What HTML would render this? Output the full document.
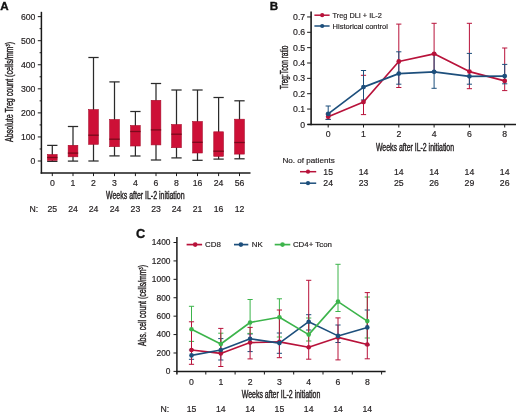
<!DOCTYPE html>
<html><head><meta charset="utf-8"><style>
html,body{margin:0;padding:0;background:#fff;}
svg{display:block;font-family:"Liberation Sans", sans-serif;will-change:transform;filter:blur(0.3px);}
</style></head><body>
<svg width="520" height="413" viewBox="0 0 520 413">
<rect width="520" height="413" fill="#fff"/>
<text x="0.3" y="10.0" font-size="11.6" text-anchor="start" fill="#111" font-weight="bold" stroke="#111" stroke-width="0.35">A</text>
<line x1="41.4" y1="11.8" x2="41.4" y2="173.65" stroke="#1a1a1a" stroke-width="1.5" />
<line x1="40.65" y1="172.9" x2="250.5" y2="172.9" stroke="#1a1a1a" stroke-width="1.5" />
<line x1="37.8" y1="161.0" x2="41.4" y2="161.0" stroke="#1a1a1a" stroke-width="1.0" />
<text x="35.4" y="164.1" font-size="8.7" text-anchor="end" fill="#231f20" font-weight="normal"  stroke="#231f20" stroke-width="0.18">0</text>
<line x1="37.8" y1="136.94" x2="41.4" y2="136.94" stroke="#1a1a1a" stroke-width="1.0" />
<text x="35.4" y="140.04" font-size="8.7" text-anchor="end" fill="#231f20" font-weight="normal"  stroke="#231f20" stroke-width="0.18">100</text>
<line x1="37.8" y1="112.88" x2="41.4" y2="112.88" stroke="#1a1a1a" stroke-width="1.0" />
<text x="35.4" y="115.97999999999999" font-size="8.7" text-anchor="end" fill="#231f20" font-weight="normal"  stroke="#231f20" stroke-width="0.18">200</text>
<line x1="37.8" y1="88.82" x2="41.4" y2="88.82" stroke="#1a1a1a" stroke-width="1.0" />
<text x="35.4" y="91.91999999999999" font-size="8.7" text-anchor="end" fill="#231f20" font-weight="normal"  stroke="#231f20" stroke-width="0.18">300</text>
<line x1="37.8" y1="64.75999999999999" x2="41.4" y2="64.75999999999999" stroke="#1a1a1a" stroke-width="1.0" />
<text x="35.4" y="67.85999999999999" font-size="8.7" text-anchor="end" fill="#231f20" font-weight="normal"  stroke="#231f20" stroke-width="0.18">400</text>
<line x1="37.8" y1="40.7" x2="41.4" y2="40.7" stroke="#1a1a1a" stroke-width="1.0" />
<text x="35.4" y="43.800000000000004" font-size="8.7" text-anchor="end" fill="#231f20" font-weight="normal"  stroke="#231f20" stroke-width="0.18">500</text>
<line x1="37.8" y1="16.639999999999986" x2="41.4" y2="16.639999999999986" stroke="#1a1a1a" stroke-width="1.0" />
<text x="35.4" y="19.739999999999988" font-size="8.7" text-anchor="end" fill="#231f20" font-weight="normal"  stroke="#231f20" stroke-width="0.18">600</text>
<line x1="39.6" y1="148.97" x2="41.4" y2="148.97" stroke="#1a1a1a" stroke-width="1.0" />
<line x1="39.6" y1="124.91" x2="41.4" y2="124.91" stroke="#1a1a1a" stroke-width="1.0" />
<line x1="39.6" y1="100.85" x2="41.4" y2="100.85" stroke="#1a1a1a" stroke-width="1.0" />
<line x1="39.6" y1="76.78999999999999" x2="41.4" y2="76.78999999999999" stroke="#1a1a1a" stroke-width="1.0" />
<line x1="39.6" y1="52.72999999999999" x2="41.4" y2="52.72999999999999" stroke="#1a1a1a" stroke-width="1.0" />
<line x1="39.6" y1="28.669999999999987" x2="41.4" y2="28.669999999999987" stroke="#1a1a1a" stroke-width="1.0" />
<line x1="52.3" y1="145.4" x2="52.3" y2="161.4" stroke="#2a2a2a" stroke-width="1.25" />
<line x1="47.15" y1="145.4" x2="57.449999999999996" y2="145.4" stroke="#2a2a2a" stroke-width="1.25" />
<line x1="47.15" y1="161.4" x2="57.449999999999996" y2="161.4" stroke="#2a2a2a" stroke-width="1.25" />
<rect x="47.45" y="154.5" width="9.70" height="5.90" fill="#cd1037" stroke="#a80d2b" stroke-width="0.6"/>
<line x1="47.15" y1="157.5" x2="57.449999999999996" y2="157.5" stroke="#7a0a1c" stroke-width="1.3" />
<line x1="52.3" y1="172.9" x2="52.3" y2="176.1" stroke="#1a1a1a" stroke-width="1.0" />
<text x="52.3" y="185.6" font-size="8.7" text-anchor="middle" fill="#231f20" font-weight="normal"  stroke="#231f20" stroke-width="0.18">0</text>
<text x="52.3" y="212.3" font-size="8.7" text-anchor="middle" fill="#231f20" font-weight="normal"  stroke="#231f20" stroke-width="0.18">25</text>
<line x1="73.0" y1="126.5" x2="73.0" y2="161.1" stroke="#2a2a2a" stroke-width="1.25" />
<line x1="67.85" y1="126.5" x2="78.15" y2="126.5" stroke="#2a2a2a" stroke-width="1.25" />
<line x1="67.85" y1="161.1" x2="78.15" y2="161.1" stroke="#2a2a2a" stroke-width="1.25" />
<rect x="68.15" y="145.3" width="9.70" height="11.50" fill="#cd1037" stroke="#a80d2b" stroke-width="0.6"/>
<line x1="67.85" y1="153.1" x2="78.15" y2="153.1" stroke="#7a0a1c" stroke-width="1.3" />
<line x1="73.0" y1="172.9" x2="73.0" y2="176.1" stroke="#1a1a1a" stroke-width="1.0" />
<text x="73.0" y="185.6" font-size="8.7" text-anchor="middle" fill="#231f20" font-weight="normal"  stroke="#231f20" stroke-width="0.18">1</text>
<text x="73.0" y="212.3" font-size="8.7" text-anchor="middle" fill="#231f20" font-weight="normal"  stroke="#231f20" stroke-width="0.18">24</text>
<line x1="93.5" y1="57.5" x2="93.5" y2="161.0" stroke="#2a2a2a" stroke-width="1.25" />
<line x1="88.35" y1="57.5" x2="98.65" y2="57.5" stroke="#2a2a2a" stroke-width="1.25" />
<line x1="88.35" y1="161.0" x2="98.65" y2="161.0" stroke="#2a2a2a" stroke-width="1.25" />
<rect x="88.65" y="109.6" width="9.70" height="34.70" fill="#cd1037" stroke="#a80d2b" stroke-width="0.6"/>
<line x1="88.35" y1="135.2" x2="98.65" y2="135.2" stroke="#7a0a1c" stroke-width="1.3" />
<line x1="93.5" y1="172.9" x2="93.5" y2="176.1" stroke="#1a1a1a" stroke-width="1.0" />
<text x="93.5" y="185.6" font-size="8.7" text-anchor="middle" fill="#231f20" font-weight="normal"  stroke="#231f20" stroke-width="0.18">2</text>
<text x="93.5" y="212.3" font-size="8.7" text-anchor="middle" fill="#231f20" font-weight="normal"  stroke="#231f20" stroke-width="0.18">24</text>
<line x1="114.5" y1="81.9" x2="114.5" y2="155.9" stroke="#2a2a2a" stroke-width="1.25" />
<line x1="109.35" y1="81.9" x2="119.65" y2="81.9" stroke="#2a2a2a" stroke-width="1.25" />
<line x1="109.35" y1="155.9" x2="119.65" y2="155.9" stroke="#2a2a2a" stroke-width="1.25" />
<rect x="109.65" y="119.5" width="9.70" height="27.20" fill="#cd1037" stroke="#a80d2b" stroke-width="0.6"/>
<line x1="109.35" y1="139.2" x2="119.65" y2="139.2" stroke="#7a0a1c" stroke-width="1.3" />
<line x1="114.5" y1="172.9" x2="114.5" y2="176.1" stroke="#1a1a1a" stroke-width="1.0" />
<text x="114.5" y="185.6" font-size="8.7" text-anchor="middle" fill="#231f20" font-weight="normal"  stroke="#231f20" stroke-width="0.18">3</text>
<text x="114.5" y="212.3" font-size="8.7" text-anchor="middle" fill="#231f20" font-weight="normal"  stroke="#231f20" stroke-width="0.18">24</text>
<line x1="135.4" y1="111.5" x2="135.4" y2="156.0" stroke="#2a2a2a" stroke-width="1.25" />
<line x1="130.25" y1="111.5" x2="140.55" y2="111.5" stroke="#2a2a2a" stroke-width="1.25" />
<line x1="130.25" y1="156.0" x2="140.55" y2="156.0" stroke="#2a2a2a" stroke-width="1.25" />
<rect x="130.55" y="125.5" width="9.70" height="20.50" fill="#cd1037" stroke="#a80d2b" stroke-width="0.6"/>
<line x1="130.25" y1="131.5" x2="140.55" y2="131.5" stroke="#7a0a1c" stroke-width="1.3" />
<line x1="135.4" y1="172.9" x2="135.4" y2="176.1" stroke="#1a1a1a" stroke-width="1.0" />
<text x="135.4" y="185.6" font-size="8.7" text-anchor="middle" fill="#231f20" font-weight="normal"  stroke="#231f20" stroke-width="0.18">4</text>
<text x="135.4" y="212.3" font-size="8.7" text-anchor="middle" fill="#231f20" font-weight="normal"  stroke="#231f20" stroke-width="0.18">23</text>
<line x1="156.0" y1="83.5" x2="156.0" y2="160.0" stroke="#2a2a2a" stroke-width="1.25" />
<line x1="150.85" y1="83.5" x2="161.15" y2="83.5" stroke="#2a2a2a" stroke-width="1.25" />
<line x1="150.85" y1="160.0" x2="161.15" y2="160.0" stroke="#2a2a2a" stroke-width="1.25" />
<rect x="151.15" y="100.3" width="9.70" height="44.60" fill="#cd1037" stroke="#a80d2b" stroke-width="0.6"/>
<line x1="150.85" y1="129.9" x2="161.15" y2="129.9" stroke="#7a0a1c" stroke-width="1.3" />
<line x1="156.0" y1="172.9" x2="156.0" y2="176.1" stroke="#1a1a1a" stroke-width="1.0" />
<text x="156.0" y="185.6" font-size="8.7" text-anchor="middle" fill="#231f20" font-weight="normal"  stroke="#231f20" stroke-width="0.18">6</text>
<text x="156.0" y="212.3" font-size="8.7" text-anchor="middle" fill="#231f20" font-weight="normal"  stroke="#231f20" stroke-width="0.18">23</text>
<line x1="176.5" y1="90.0" x2="176.5" y2="157.9" stroke="#2a2a2a" stroke-width="1.25" />
<line x1="171.35" y1="90.0" x2="181.65" y2="90.0" stroke="#2a2a2a" stroke-width="1.25" />
<line x1="171.35" y1="157.9" x2="181.65" y2="157.9" stroke="#2a2a2a" stroke-width="1.25" />
<rect x="171.65" y="124.5" width="9.70" height="23.20" fill="#cd1037" stroke="#a80d2b" stroke-width="0.6"/>
<line x1="171.35" y1="134.2" x2="181.65" y2="134.2" stroke="#7a0a1c" stroke-width="1.3" />
<line x1="176.5" y1="172.9" x2="176.5" y2="176.1" stroke="#1a1a1a" stroke-width="1.0" />
<text x="176.5" y="185.6" font-size="8.7" text-anchor="middle" fill="#231f20" font-weight="normal"  stroke="#231f20" stroke-width="0.18">8</text>
<text x="176.5" y="212.3" font-size="8.7" text-anchor="middle" fill="#231f20" font-weight="normal"  stroke="#231f20" stroke-width="0.18">24</text>
<line x1="197.5" y1="90.0" x2="197.5" y2="160.3" stroke="#2a2a2a" stroke-width="1.25" />
<line x1="192.35" y1="90.0" x2="202.65" y2="90.0" stroke="#2a2a2a" stroke-width="1.25" />
<line x1="192.35" y1="160.3" x2="202.65" y2="160.3" stroke="#2a2a2a" stroke-width="1.25" />
<rect x="192.65" y="121.5" width="9.70" height="31.50" fill="#cd1037" stroke="#a80d2b" stroke-width="0.6"/>
<line x1="192.35" y1="142.3" x2="202.65" y2="142.3" stroke="#7a0a1c" stroke-width="1.3" />
<line x1="197.5" y1="172.9" x2="197.5" y2="176.1" stroke="#1a1a1a" stroke-width="1.0" />
<text x="197.5" y="185.6" font-size="8.7" text-anchor="middle" fill="#231f20" font-weight="normal"  stroke="#231f20" stroke-width="0.18">16</text>
<text x="197.5" y="212.3" font-size="8.7" text-anchor="middle" fill="#231f20" font-weight="normal"  stroke="#231f20" stroke-width="0.18">21</text>
<line x1="218.6" y1="97.5" x2="218.6" y2="159.1" stroke="#2a2a2a" stroke-width="1.25" />
<line x1="213.45" y1="97.5" x2="223.75" y2="97.5" stroke="#2a2a2a" stroke-width="1.25" />
<line x1="213.45" y1="159.1" x2="223.75" y2="159.1" stroke="#2a2a2a" stroke-width="1.25" />
<rect x="213.75" y="131.8" width="9.70" height="24.50" fill="#cd1037" stroke="#a80d2b" stroke-width="0.6"/>
<line x1="213.45" y1="151.2" x2="223.75" y2="151.2" stroke="#7a0a1c" stroke-width="1.3" />
<line x1="218.6" y1="172.9" x2="218.6" y2="176.1" stroke="#1a1a1a" stroke-width="1.0" />
<text x="218.6" y="185.6" font-size="8.7" text-anchor="middle" fill="#231f20" font-weight="normal"  stroke="#231f20" stroke-width="0.18">24</text>
<text x="218.6" y="212.3" font-size="8.7" text-anchor="middle" fill="#231f20" font-weight="normal"  stroke="#231f20" stroke-width="0.18">16</text>
<line x1="239.5" y1="100.8" x2="239.5" y2="158.8" stroke="#2a2a2a" stroke-width="1.25" />
<line x1="234.35" y1="100.8" x2="244.65" y2="100.8" stroke="#2a2a2a" stroke-width="1.25" />
<line x1="234.35" y1="158.8" x2="244.65" y2="158.8" stroke="#2a2a2a" stroke-width="1.25" />
<rect x="234.65" y="119.2" width="9.70" height="34.90" fill="#cd1037" stroke="#a80d2b" stroke-width="0.6"/>
<line x1="234.35" y1="142.5" x2="244.65" y2="142.5" stroke="#7a0a1c" stroke-width="1.3" />
<line x1="239.5" y1="172.9" x2="239.5" y2="176.1" stroke="#1a1a1a" stroke-width="1.0" />
<text x="239.5" y="185.6" font-size="8.7" text-anchor="middle" fill="#231f20" font-weight="normal"  stroke="#231f20" stroke-width="0.18">56</text>
<text x="239.5" y="212.3" font-size="8.7" text-anchor="middle" fill="#231f20" font-weight="normal"  stroke="#231f20" stroke-width="0.18">12</text>
<text x="29.5" y="212.3" font-size="8.7" text-anchor="start" fill="#231f20" font-weight="normal"  stroke="#231f20" stroke-width="0.18">N:</text>
<text x="106" y="198.8" font-size="10.2" fill="#231f20" stroke="#231f20" stroke-width="0.4" textLength="78.6" lengthAdjust="spacingAndGlyphs" text-anchor="start">Weeks after IL-2 initiation</text>
<text transform="translate(13.4,142) rotate(-90)" font-size="10.2" fill="#231f20" stroke="#231f20" stroke-width="0.4" textLength="100" lengthAdjust="spacingAndGlyphs" text-anchor="start">Absolute Treg count (cells/mm<tspan dy="-3" font-size="5.5">3</tspan><tspan dy="3">)</tspan></text>
<text x="269.7" y="10.2" font-size="11.6" text-anchor="start" fill="#111" font-weight="bold" stroke="#111" stroke-width="0.35">B</text>
<line x1="311.1" y1="11.4" x2="311.1" y2="125.25" stroke="#1a1a1a" stroke-width="1.6" />
<line x1="307.6" y1="124.5" x2="516" y2="124.5" stroke="#1a1a1a" stroke-width="1.6" />
<line x1="307.1" y1="124.4" x2="311.1" y2="124.4" stroke="#1a1a1a" stroke-width="1.0" />
<text x="305.2" y="127.5" font-size="8.7" text-anchor="end" fill="#231f20" font-weight="normal"  stroke="#231f20" stroke-width="0.18">0</text>
<line x1="307.1" y1="109.05000000000001" x2="311.1" y2="109.05000000000001" stroke="#1a1a1a" stroke-width="1.0" />
<text x="305.2" y="112.15" font-size="8.7" text-anchor="end" fill="#231f20" font-weight="normal"  stroke="#231f20" stroke-width="0.18">0.1</text>
<line x1="307.1" y1="93.7" x2="311.1" y2="93.7" stroke="#1a1a1a" stroke-width="1.0" />
<text x="305.2" y="96.8" font-size="8.7" text-anchor="end" fill="#231f20" font-weight="normal"  stroke="#231f20" stroke-width="0.18">0.2</text>
<line x1="307.1" y1="78.35000000000001" x2="311.1" y2="78.35000000000001" stroke="#1a1a1a" stroke-width="1.0" />
<text x="305.2" y="81.45" font-size="8.7" text-anchor="end" fill="#231f20" font-weight="normal"  stroke="#231f20" stroke-width="0.18">0.3</text>
<line x1="307.1" y1="63.0" x2="311.1" y2="63.0" stroke="#1a1a1a" stroke-width="1.0" />
<text x="305.2" y="66.1" font-size="8.7" text-anchor="end" fill="#231f20" font-weight="normal"  stroke="#231f20" stroke-width="0.18">0.4</text>
<line x1="307.1" y1="47.650000000000006" x2="311.1" y2="47.650000000000006" stroke="#1a1a1a" stroke-width="1.0" />
<text x="305.2" y="50.75000000000001" font-size="8.7" text-anchor="end" fill="#231f20" font-weight="normal"  stroke="#231f20" stroke-width="0.18">0.5</text>
<line x1="307.1" y1="32.30000000000001" x2="311.1" y2="32.30000000000001" stroke="#1a1a1a" stroke-width="1.0" />
<text x="305.2" y="35.40000000000001" font-size="8.7" text-anchor="end" fill="#231f20" font-weight="normal"  stroke="#231f20" stroke-width="0.18">0.6</text>
<line x1="307.1" y1="16.950000000000017" x2="311.1" y2="16.950000000000017" stroke="#1a1a1a" stroke-width="1.0" />
<text x="305.2" y="20.05000000000002" font-size="8.7" text-anchor="end" fill="#231f20" font-weight="normal"  stroke="#231f20" stroke-width="0.18">0.7</text>
<line x1="328.2" y1="124.5" x2="328.2" y2="127.5" stroke="#1a1a1a" stroke-width="1.0" />
<text x="328.2" y="137.2" font-size="8.7" text-anchor="middle" fill="#231f20" font-weight="normal"  stroke="#231f20" stroke-width="0.18">0</text>
<line x1="363.5" y1="124.5" x2="363.5" y2="127.5" stroke="#1a1a1a" stroke-width="1.0" />
<text x="363.5" y="137.2" font-size="8.7" text-anchor="middle" fill="#231f20" font-weight="normal"  stroke="#231f20" stroke-width="0.18">1</text>
<line x1="398.79999999999995" y1="124.5" x2="398.79999999999995" y2="127.5" stroke="#1a1a1a" stroke-width="1.0" />
<text x="398.79999999999995" y="137.2" font-size="8.7" text-anchor="middle" fill="#231f20" font-weight="normal"  stroke="#231f20" stroke-width="0.18">2</text>
<line x1="434.09999999999997" y1="124.5" x2="434.09999999999997" y2="127.5" stroke="#1a1a1a" stroke-width="1.0" />
<text x="434.09999999999997" y="137.2" font-size="8.7" text-anchor="middle" fill="#231f20" font-weight="normal"  stroke="#231f20" stroke-width="0.18">4</text>
<line x1="469.4" y1="124.5" x2="469.4" y2="127.5" stroke="#1a1a1a" stroke-width="1.0" />
<text x="469.4" y="137.2" font-size="8.7" text-anchor="middle" fill="#231f20" font-weight="normal"  stroke="#231f20" stroke-width="0.18">6</text>
<line x1="504.7" y1="124.5" x2="504.7" y2="127.5" stroke="#1a1a1a" stroke-width="1.0" />
<text x="504.7" y="137.2" font-size="8.7" text-anchor="middle" fill="#231f20" font-weight="normal"  stroke="#231f20" stroke-width="0.18">8</text>
<text x="375.9" y="151.2" font-size="10.2" fill="#231f20" stroke="#231f20" stroke-width="0.4" textLength="78.2" lengthAdjust="spacingAndGlyphs" text-anchor="start">Weeks after IL-2 initiation</text>
<text transform="translate(288.4,89.3) rotate(-90)" font-size="10.2" fill="#231f20" stroke="#231f20" stroke-width="0.4" textLength="43.8" lengthAdjust="spacingAndGlyphs" text-anchor="start">Treg:Tcon ratio</text>
<line x1="328.2" y1="114.0" x2="328.2" y2="119.4" stroke="#b8123a" stroke-width="1.0" />
<line x1="325.59999999999997" y1="114.0" x2="330.8" y2="114.0" stroke="#b8123a" stroke-width="1.0" />
<line x1="325.59999999999997" y1="119.4" x2="330.8" y2="119.4" stroke="#b8123a" stroke-width="1.0" />
<line x1="363.5" y1="75.3" x2="363.5" y2="114.6" stroke="#b8123a" stroke-width="1.0" />
<line x1="360.9" y1="75.3" x2="366.1" y2="75.3" stroke="#b8123a" stroke-width="1.0" />
<line x1="360.9" y1="114.6" x2="366.1" y2="114.6" stroke="#b8123a" stroke-width="1.0" />
<line x1="398.79999999999995" y1="24.1" x2="398.79999999999995" y2="87.5" stroke="#b8123a" stroke-width="1.0" />
<line x1="396.19999999999993" y1="24.1" x2="401.4" y2="24.1" stroke="#b8123a" stroke-width="1.0" />
<line x1="396.19999999999993" y1="87.5" x2="401.4" y2="87.5" stroke="#b8123a" stroke-width="1.0" />
<line x1="434.09999999999997" y1="23.3" x2="434.09999999999997" y2="72.0" stroke="#b8123a" stroke-width="1.0" />
<line x1="431.49999999999994" y1="23.3" x2="436.7" y2="23.3" stroke="#b8123a" stroke-width="1.0" />
<line x1="431.49999999999994" y1="72.0" x2="436.7" y2="72.0" stroke="#b8123a" stroke-width="1.0" />
<line x1="469.4" y1="23.3" x2="469.4" y2="88.7" stroke="#b8123a" stroke-width="1.0" />
<line x1="466.79999999999995" y1="23.3" x2="472.0" y2="23.3" stroke="#b8123a" stroke-width="1.0" />
<line x1="466.79999999999995" y1="88.7" x2="472.0" y2="88.7" stroke="#b8123a" stroke-width="1.0" />
<line x1="504.7" y1="48.0" x2="504.7" y2="90.6" stroke="#b8123a" stroke-width="1.0" />
<line x1="502.09999999999997" y1="48.0" x2="507.3" y2="48.0" stroke="#b8123a" stroke-width="1.0" />
<line x1="502.09999999999997" y1="90.6" x2="507.3" y2="90.6" stroke="#b8123a" stroke-width="1.0" />
<line x1="328.2" y1="106.0" x2="328.2" y2="119.4" stroke="#1d4f7c" stroke-width="1.0" />
<line x1="325.59999999999997" y1="106.0" x2="330.8" y2="106.0" stroke="#1d4f7c" stroke-width="1.0" />
<line x1="325.59999999999997" y1="119.4" x2="330.8" y2="119.4" stroke="#1d4f7c" stroke-width="1.0" />
<line x1="363.5" y1="70.5" x2="363.5" y2="100.0" stroke="#1d4f7c" stroke-width="1.0" />
<line x1="360.9" y1="70.5" x2="366.1" y2="70.5" stroke="#1d4f7c" stroke-width="1.0" />
<line x1="360.9" y1="100.0" x2="366.1" y2="100.0" stroke="#1d4f7c" stroke-width="1.0" />
<line x1="398.79999999999995" y1="51.8" x2="398.79999999999995" y2="84.2" stroke="#1d4f7c" stroke-width="1.0" />
<line x1="396.19999999999993" y1="51.8" x2="401.4" y2="51.8" stroke="#1d4f7c" stroke-width="1.0" />
<line x1="396.19999999999993" y1="84.2" x2="401.4" y2="84.2" stroke="#1d4f7c" stroke-width="1.0" />
<line x1="434.09999999999997" y1="54.0" x2="434.09999999999997" y2="88.3" stroke="#1d4f7c" stroke-width="1.0" />
<line x1="431.49999999999994" y1="54.0" x2="436.7" y2="54.0" stroke="#1d4f7c" stroke-width="1.0" />
<line x1="431.49999999999994" y1="88.3" x2="436.7" y2="88.3" stroke="#1d4f7c" stroke-width="1.0" />
<line x1="469.4" y1="53.4" x2="469.4" y2="84.2" stroke="#1d4f7c" stroke-width="1.0" />
<line x1="466.79999999999995" y1="53.4" x2="472.0" y2="53.4" stroke="#1d4f7c" stroke-width="1.0" />
<line x1="466.79999999999995" y1="84.2" x2="472.0" y2="84.2" stroke="#1d4f7c" stroke-width="1.0" />
<line x1="504.7" y1="64.4" x2="504.7" y2="83.8" stroke="#1d4f7c" stroke-width="1.0" />
<line x1="502.09999999999997" y1="64.4" x2="507.3" y2="64.4" stroke="#1d4f7c" stroke-width="1.0" />
<line x1="502.09999999999997" y1="83.8" x2="507.3" y2="83.8" stroke="#1d4f7c" stroke-width="1.0" />
<polyline points="328.20,116.70 363.50,102.00 398.80,61.50 434.10,53.80 469.40,71.60 504.70,80.90" fill="none" stroke="#b8123a" stroke-width="1.7" stroke-linejoin="round"/>
<circle cx="328.20" cy="116.70" r="2.4" fill="#b8123a"/>
<circle cx="363.50" cy="102.00" r="2.4" fill="#b8123a"/>
<circle cx="398.80" cy="61.50" r="2.4" fill="#b8123a"/>
<circle cx="434.10" cy="53.80" r="2.4" fill="#b8123a"/>
<circle cx="469.40" cy="71.60" r="2.4" fill="#b8123a"/>
<circle cx="504.70" cy="80.90" r="2.4" fill="#b8123a"/>
<polyline points="328.20,113.90 363.50,87.10 398.80,73.60 434.10,71.80 469.40,76.30 504.70,76.10" fill="none" stroke="#1d4f7c" stroke-width="1.7" stroke-linejoin="round"/>
<circle cx="328.20" cy="113.90" r="2.4" fill="#1d4f7c"/>
<circle cx="363.50" cy="87.10" r="2.4" fill="#1d4f7c"/>
<circle cx="398.80" cy="73.60" r="2.4" fill="#1d4f7c"/>
<circle cx="434.10" cy="71.80" r="2.4" fill="#1d4f7c"/>
<circle cx="469.40" cy="76.30" r="2.4" fill="#1d4f7c"/>
<circle cx="504.70" cy="76.10" r="2.4" fill="#1d4f7c"/>
<line x1="314.4" y1="15.2" x2="329.6" y2="15.2" stroke="#b8123a" stroke-width="1.5" />
<circle cx="322.2" cy="15.2" r="2.1" fill="#b8123a"/>
<text x="332.6" y="17.6" font-size="7.9" text-anchor="start" fill="#231f20" font-weight="normal" textLength="49.2" lengthAdjust="spacingAndGlyphs" stroke="#231f20" stroke-width="0.18">Treg DLI + IL-2</text>
<line x1="314.4" y1="26.0" x2="329.6" y2="26.0" stroke="#1d4f7c" stroke-width="1.5" />
<circle cx="322.2" cy="26.0" r="2.1" fill="#1d4f7c"/>
<text x="332.6" y="28.5" font-size="7.9" text-anchor="start" fill="#231f20" font-weight="normal" textLength="55.3" lengthAdjust="spacingAndGlyphs" stroke="#231f20" stroke-width="0.18">Historical control</text>
<text x="282.5" y="162.8" font-size="8.1" text-anchor="start" fill="#231f20" font-weight="normal"  stroke="#231f20" stroke-width="0.18">No. of patients</text>
<line x1="300" y1="171.7" x2="316.2" y2="171.7" stroke="#b8123a" stroke-width="1.5" />
<circle cx="308" cy="171.7" r="2.1" fill="#b8123a"/>
<line x1="300" y1="183.2" x2="316.2" y2="183.2" stroke="#1d4f7c" stroke-width="1.5" />
<circle cx="308" cy="183.2" r="2.1" fill="#1d4f7c"/>
<text x="328.2" y="174.7" font-size="8.7" text-anchor="middle" fill="#231f20" font-weight="normal"  stroke="#231f20" stroke-width="0.18">15</text>
<text x="328.2" y="186.2" font-size="8.7" text-anchor="middle" fill="#231f20" font-weight="normal"  stroke="#231f20" stroke-width="0.18">24</text>
<text x="363.5" y="174.7" font-size="8.7" text-anchor="middle" fill="#231f20" font-weight="normal"  stroke="#231f20" stroke-width="0.18">14</text>
<text x="363.5" y="186.2" font-size="8.7" text-anchor="middle" fill="#231f20" font-weight="normal"  stroke="#231f20" stroke-width="0.18">23</text>
<text x="398.79999999999995" y="174.7" font-size="8.7" text-anchor="middle" fill="#231f20" font-weight="normal"  stroke="#231f20" stroke-width="0.18">14</text>
<text x="398.79999999999995" y="186.2" font-size="8.7" text-anchor="middle" fill="#231f20" font-weight="normal"  stroke="#231f20" stroke-width="0.18">25</text>
<text x="434.09999999999997" y="174.7" font-size="8.7" text-anchor="middle" fill="#231f20" font-weight="normal"  stroke="#231f20" stroke-width="0.18">14</text>
<text x="434.09999999999997" y="186.2" font-size="8.7" text-anchor="middle" fill="#231f20" font-weight="normal"  stroke="#231f20" stroke-width="0.18">26</text>
<text x="469.4" y="174.7" font-size="8.7" text-anchor="middle" fill="#231f20" font-weight="normal"  stroke="#231f20" stroke-width="0.18">14</text>
<text x="469.4" y="186.2" font-size="8.7" text-anchor="middle" fill="#231f20" font-weight="normal"  stroke="#231f20" stroke-width="0.18">29</text>
<text x="504.7" y="174.7" font-size="8.7" text-anchor="middle" fill="#231f20" font-weight="normal"  stroke="#231f20" stroke-width="0.18">14</text>
<text x="504.7" y="186.2" font-size="8.7" text-anchor="middle" fill="#231f20" font-weight="normal"  stroke="#231f20" stroke-width="0.18">26</text>
<text x="135.9" y="237.6" font-size="12.8" text-anchor="start" fill="#111" font-weight="bold" stroke="#111" stroke-width="0.35">C</text>
<line x1="176.9" y1="237" x2="176.9" y2="374.5" stroke="#1a1a1a" stroke-width="1.5" />
<line x1="176.15" y1="371.5" x2="385.6" y2="371.5" stroke="#1a1a1a" stroke-width="1.5" />
<line x1="173.5" y1="371.4" x2="176.9" y2="371.4" stroke="#1a1a1a" stroke-width="1.0" />
<text x="170.5" y="374.29999999999995" font-size="8.4" text-anchor="end" fill="#231f20" font-weight="normal"  stroke="#231f20" stroke-width="0.18">0</text>
<line x1="173.5" y1="352.986" x2="176.9" y2="352.986" stroke="#1a1a1a" stroke-width="1.0" />
<text x="170.5" y="355.88599999999997" font-size="8.4" text-anchor="end" fill="#231f20" font-weight="normal"  stroke="#231f20" stroke-width="0.18">200</text>
<line x1="173.5" y1="334.572" x2="176.9" y2="334.572" stroke="#1a1a1a" stroke-width="1.0" />
<text x="170.5" y="337.472" font-size="8.4" text-anchor="end" fill="#231f20" font-weight="normal"  stroke="#231f20" stroke-width="0.18">400</text>
<line x1="173.5" y1="316.15799999999996" x2="176.9" y2="316.15799999999996" stroke="#1a1a1a" stroke-width="1.0" />
<text x="170.5" y="319.05799999999994" font-size="8.4" text-anchor="end" fill="#231f20" font-weight="normal"  stroke="#231f20" stroke-width="0.18">600</text>
<line x1="173.5" y1="297.74399999999997" x2="176.9" y2="297.74399999999997" stroke="#1a1a1a" stroke-width="1.0" />
<text x="170.5" y="300.64399999999995" font-size="8.4" text-anchor="end" fill="#231f20" font-weight="normal"  stroke="#231f20" stroke-width="0.18">800</text>
<line x1="173.5" y1="279.33" x2="176.9" y2="279.33" stroke="#1a1a1a" stroke-width="1.0" />
<text x="170.5" y="282.22999999999996" font-size="8.4" text-anchor="end" fill="#231f20" font-weight="normal"  stroke="#231f20" stroke-width="0.18">1000</text>
<line x1="173.5" y1="260.916" x2="176.9" y2="260.916" stroke="#1a1a1a" stroke-width="1.0" />
<text x="170.5" y="263.816" font-size="8.4" text-anchor="end" fill="#231f20" font-weight="normal"  stroke="#231f20" stroke-width="0.18">1200</text>
<line x1="173.5" y1="242.50199999999998" x2="176.9" y2="242.50199999999998" stroke="#1a1a1a" stroke-width="1.0" />
<text x="170.5" y="245.402" font-size="8.4" text-anchor="end" fill="#231f20" font-weight="normal"  stroke="#231f20" stroke-width="0.18">1400</text>
<text x="191.5" y="384.9" font-size="8.7" text-anchor="middle" fill="#231f20" font-weight="normal"  stroke="#231f20" stroke-width="0.18">0</text>
<text x="191.5" y="411.6" font-size="8.7" text-anchor="middle" fill="#231f20" font-weight="normal"  stroke="#231f20" stroke-width="0.18">15</text>
<text x="220.8" y="384.9" font-size="8.7" text-anchor="middle" fill="#231f20" font-weight="normal"  stroke="#231f20" stroke-width="0.18">1</text>
<text x="220.8" y="411.6" font-size="8.7" text-anchor="middle" fill="#231f20" font-weight="normal"  stroke="#231f20" stroke-width="0.18">14</text>
<text x="250.1" y="384.9" font-size="8.7" text-anchor="middle" fill="#231f20" font-weight="normal"  stroke="#231f20" stroke-width="0.18">2</text>
<text x="250.1" y="411.6" font-size="8.7" text-anchor="middle" fill="#231f20" font-weight="normal"  stroke="#231f20" stroke-width="0.18">14</text>
<text x="279.4" y="384.9" font-size="8.7" text-anchor="middle" fill="#231f20" font-weight="normal"  stroke="#231f20" stroke-width="0.18">3</text>
<text x="279.4" y="411.6" font-size="8.7" text-anchor="middle" fill="#231f20" font-weight="normal"  stroke="#231f20" stroke-width="0.18">15</text>
<text x="308.7" y="384.9" font-size="8.7" text-anchor="middle" fill="#231f20" font-weight="normal"  stroke="#231f20" stroke-width="0.18">4</text>
<text x="308.7" y="411.6" font-size="8.7" text-anchor="middle" fill="#231f20" font-weight="normal"  stroke="#231f20" stroke-width="0.18">14</text>
<text x="338.0" y="384.9" font-size="8.7" text-anchor="middle" fill="#231f20" font-weight="normal"  stroke="#231f20" stroke-width="0.18">6</text>
<text x="338.0" y="411.6" font-size="8.7" text-anchor="middle" fill="#231f20" font-weight="normal"  stroke="#231f20" stroke-width="0.18">14</text>
<text x="367.3" y="384.9" font-size="8.7" text-anchor="middle" fill="#231f20" font-weight="normal"  stroke="#231f20" stroke-width="0.18">8</text>
<text x="367.3" y="411.6" font-size="8.7" text-anchor="middle" fill="#231f20" font-weight="normal"  stroke="#231f20" stroke-width="0.18">14</text>
<line x1="205.8" y1="371.5" x2="205.8" y2="374.5" stroke="#1a1a1a" stroke-width="1.0" />
<line x1="235.1" y1="371.5" x2="235.1" y2="374.5" stroke="#1a1a1a" stroke-width="1.0" />
<line x1="264.40000000000003" y1="371.5" x2="264.40000000000003" y2="374.5" stroke="#1a1a1a" stroke-width="1.0" />
<line x1="293.70000000000005" y1="371.5" x2="293.70000000000005" y2="374.5" stroke="#1a1a1a" stroke-width="1.0" />
<line x1="323.0" y1="371.5" x2="323.0" y2="374.5" stroke="#1a1a1a" stroke-width="1.0" />
<line x1="352.30000000000007" y1="371.5" x2="352.30000000000007" y2="374.5" stroke="#1a1a1a" stroke-width="1.0" />
<line x1="381.6" y1="371.5" x2="381.6" y2="374.5" stroke="#1a1a1a" stroke-width="1.0" />
<text x="160.4" y="411.6" font-size="8.7" text-anchor="start" fill="#231f20" font-weight="normal"  stroke="#231f20" stroke-width="0.18">N:</text>
<text x="241.7" y="397.8" font-size="10.2" fill="#231f20" stroke="#231f20" stroke-width="0.4" textLength="78.6" lengthAdjust="spacingAndGlyphs" text-anchor="start">Weeks after IL-2 initiation</text>
<text transform="translate(146.2,346) rotate(-90)" font-size="10.2" fill="#231f20" stroke="#231f20" stroke-width="0.4" textLength="81" lengthAdjust="spacingAndGlyphs" text-anchor="start">Abs. cell count (cells/mm<tspan dy="-3" font-size="5.5">3</tspan><tspan dy="3">)</tspan></text>
<line x1="191.5" y1="350.0" x2="191.5" y2="359.3" stroke="#1d4f7c" stroke-width="1.0" />
<line x1="188.9" y1="350.0" x2="194.1" y2="350.0" stroke="#1d4f7c" stroke-width="1.0" />
<line x1="188.9" y1="359.3" x2="194.1" y2="359.3" stroke="#1d4f7c" stroke-width="1.0" />
<line x1="220.8" y1="338.6" x2="220.8" y2="360.0" stroke="#1d4f7c" stroke-width="1.0" />
<line x1="218.20000000000002" y1="338.6" x2="223.4" y2="338.6" stroke="#1d4f7c" stroke-width="1.0" />
<line x1="218.20000000000002" y1="360.0" x2="223.4" y2="360.0" stroke="#1d4f7c" stroke-width="1.0" />
<line x1="250.1" y1="334.0" x2="250.1" y2="351.6" stroke="#1d4f7c" stroke-width="1.0" />
<line x1="247.5" y1="334.0" x2="252.7" y2="334.0" stroke="#1d4f7c" stroke-width="1.0" />
<line x1="247.5" y1="351.6" x2="252.7" y2="351.6" stroke="#1d4f7c" stroke-width="1.0" />
<line x1="279.4" y1="333.0" x2="279.4" y2="353.3" stroke="#1d4f7c" stroke-width="1.0" />
<line x1="276.79999999999995" y1="333.0" x2="282.0" y2="333.0" stroke="#1d4f7c" stroke-width="1.0" />
<line x1="276.79999999999995" y1="353.3" x2="282.0" y2="353.3" stroke="#1d4f7c" stroke-width="1.0" />
<line x1="308.7" y1="314.7" x2="308.7" y2="330.0" stroke="#1d4f7c" stroke-width="1.0" />
<line x1="306.09999999999997" y1="314.7" x2="311.3" y2="314.7" stroke="#1d4f7c" stroke-width="1.0" />
<line x1="306.09999999999997" y1="330.0" x2="311.3" y2="330.0" stroke="#1d4f7c" stroke-width="1.0" />
<line x1="338.0" y1="325.0" x2="338.0" y2="342.5" stroke="#1d4f7c" stroke-width="1.0" />
<line x1="335.4" y1="325.0" x2="340.6" y2="325.0" stroke="#1d4f7c" stroke-width="1.0" />
<line x1="335.4" y1="342.5" x2="340.6" y2="342.5" stroke="#1d4f7c" stroke-width="1.0" />
<line x1="367.3" y1="310.0" x2="367.3" y2="345.0" stroke="#1d4f7c" stroke-width="1.0" />
<line x1="364.7" y1="310.0" x2="369.90000000000003" y2="310.0" stroke="#1d4f7c" stroke-width="1.0" />
<line x1="364.7" y1="345.0" x2="369.90000000000003" y2="345.0" stroke="#1d4f7c" stroke-width="1.0" />
<line x1="191.5" y1="306.3" x2="191.5" y2="341.4" stroke="#3cb44b" stroke-width="1.0" />
<line x1="188.9" y1="306.3" x2="194.1" y2="306.3" stroke="#3cb44b" stroke-width="1.0" />
<line x1="188.9" y1="341.4" x2="194.1" y2="341.4" stroke="#3cb44b" stroke-width="1.0" />
<line x1="220.8" y1="333.2" x2="220.8" y2="352.0" stroke="#3cb44b" stroke-width="1.0" />
<line x1="218.20000000000002" y1="333.2" x2="223.4" y2="333.2" stroke="#3cb44b" stroke-width="1.0" />
<line x1="218.20000000000002" y1="352.0" x2="223.4" y2="352.0" stroke="#3cb44b" stroke-width="1.0" />
<line x1="250.1" y1="299.5" x2="250.1" y2="333.4" stroke="#3cb44b" stroke-width="1.0" />
<line x1="247.5" y1="299.5" x2="252.7" y2="299.5" stroke="#3cb44b" stroke-width="1.0" />
<line x1="247.5" y1="333.4" x2="252.7" y2="333.4" stroke="#3cb44b" stroke-width="1.0" />
<line x1="279.4" y1="298.8" x2="279.4" y2="337.0" stroke="#3cb44b" stroke-width="1.0" />
<line x1="276.79999999999995" y1="298.8" x2="282.0" y2="298.8" stroke="#3cb44b" stroke-width="1.0" />
<line x1="276.79999999999995" y1="337.0" x2="282.0" y2="337.0" stroke="#3cb44b" stroke-width="1.0" />
<line x1="308.7" y1="318.0" x2="308.7" y2="341.0" stroke="#3cb44b" stroke-width="1.0" />
<line x1="306.09999999999997" y1="318.0" x2="311.3" y2="318.0" stroke="#3cb44b" stroke-width="1.0" />
<line x1="306.09999999999997" y1="341.0" x2="311.3" y2="341.0" stroke="#3cb44b" stroke-width="1.0" />
<line x1="338.0" y1="264.3" x2="338.0" y2="311.5" stroke="#3cb44b" stroke-width="1.0" />
<line x1="335.4" y1="264.3" x2="340.6" y2="264.3" stroke="#3cb44b" stroke-width="1.0" />
<line x1="335.4" y1="311.5" x2="340.6" y2="311.5" stroke="#3cb44b" stroke-width="1.0" />
<line x1="367.3" y1="297.0" x2="367.3" y2="338.0" stroke="#3cb44b" stroke-width="1.0" />
<line x1="364.7" y1="297.0" x2="369.90000000000003" y2="297.0" stroke="#3cb44b" stroke-width="1.0" />
<line x1="364.7" y1="338.0" x2="369.90000000000003" y2="338.0" stroke="#3cb44b" stroke-width="1.0" />
<line x1="191.5" y1="321.8" x2="191.5" y2="364.3" stroke="#b8123a" stroke-width="1.0" />
<line x1="188.9" y1="321.8" x2="194.1" y2="321.8" stroke="#b8123a" stroke-width="1.0" />
<line x1="188.9" y1="364.3" x2="194.1" y2="364.3" stroke="#b8123a" stroke-width="1.0" />
<line x1="220.8" y1="328.4" x2="220.8" y2="366.5" stroke="#b8123a" stroke-width="1.0" />
<line x1="218.20000000000002" y1="328.4" x2="223.4" y2="328.4" stroke="#b8123a" stroke-width="1.0" />
<line x1="218.20000000000002" y1="366.5" x2="223.4" y2="366.5" stroke="#b8123a" stroke-width="1.0" />
<line x1="250.1" y1="327.4" x2="250.1" y2="358.9" stroke="#b8123a" stroke-width="1.0" />
<line x1="247.5" y1="327.4" x2="252.7" y2="327.4" stroke="#b8123a" stroke-width="1.0" />
<line x1="247.5" y1="358.9" x2="252.7" y2="358.9" stroke="#b8123a" stroke-width="1.0" />
<line x1="279.4" y1="310.0" x2="279.4" y2="357.7" stroke="#b8123a" stroke-width="1.0" />
<line x1="276.79999999999995" y1="310.0" x2="282.0" y2="310.0" stroke="#b8123a" stroke-width="1.0" />
<line x1="276.79999999999995" y1="357.7" x2="282.0" y2="357.7" stroke="#b8123a" stroke-width="1.0" />
<line x1="308.7" y1="280.3" x2="308.7" y2="359.2" stroke="#b8123a" stroke-width="1.0" />
<line x1="306.09999999999997" y1="280.3" x2="311.3" y2="280.3" stroke="#b8123a" stroke-width="1.0" />
<line x1="306.09999999999997" y1="359.2" x2="311.3" y2="359.2" stroke="#b8123a" stroke-width="1.0" />
<line x1="338.0" y1="317.9" x2="338.0" y2="359.9" stroke="#b8123a" stroke-width="1.0" />
<line x1="335.4" y1="317.9" x2="340.6" y2="317.9" stroke="#b8123a" stroke-width="1.0" />
<line x1="335.4" y1="359.9" x2="340.6" y2="359.9" stroke="#b8123a" stroke-width="1.0" />
<line x1="367.3" y1="292.6" x2="367.3" y2="358.8" stroke="#b8123a" stroke-width="1.0" />
<line x1="364.7" y1="292.6" x2="369.90000000000003" y2="292.6" stroke="#b8123a" stroke-width="1.0" />
<line x1="364.7" y1="358.8" x2="369.90000000000003" y2="358.8" stroke="#b8123a" stroke-width="1.0" />
<polyline points="191.50,350.00 220.80,353.40 250.10,342.60 279.40,341.90 308.70,347.20 338.00,337.40 367.30,344.50" fill="none" stroke="#b8123a" stroke-width="1.6" stroke-linejoin="round"/>
<circle cx="191.50" cy="350.00" r="2.3" fill="#b8123a"/>
<circle cx="220.80" cy="353.40" r="2.3" fill="#b8123a"/>
<circle cx="250.10" cy="342.60" r="2.3" fill="#b8123a"/>
<circle cx="279.40" cy="341.90" r="2.3" fill="#b8123a"/>
<circle cx="308.70" cy="347.20" r="2.3" fill="#b8123a"/>
<circle cx="338.00" cy="337.40" r="2.3" fill="#b8123a"/>
<circle cx="367.30" cy="344.50" r="2.3" fill="#b8123a"/>
<polyline points="191.50,355.40 220.80,350.00 250.10,338.80 279.40,343.10 308.70,321.70 338.00,335.90 367.30,327.40" fill="none" stroke="#1d4f7c" stroke-width="1.6" stroke-linejoin="round"/>
<circle cx="191.50" cy="355.40" r="2.3" fill="#1d4f7c"/>
<circle cx="220.80" cy="350.00" r="2.3" fill="#1d4f7c"/>
<circle cx="250.10" cy="338.80" r="2.3" fill="#1d4f7c"/>
<circle cx="279.40" cy="343.10" r="2.3" fill="#1d4f7c"/>
<circle cx="308.70" cy="321.70" r="2.3" fill="#1d4f7c"/>
<circle cx="338.00" cy="335.90" r="2.3" fill="#1d4f7c"/>
<circle cx="367.30" cy="327.40" r="2.3" fill="#1d4f7c"/>
<polyline points="191.50,329.20 220.80,344.00 250.10,322.50 279.40,317.20 308.70,334.60 338.00,301.60 367.30,321.10" fill="none" stroke="#3cb44b" stroke-width="1.6" stroke-linejoin="round"/>
<circle cx="191.50" cy="329.20" r="2.3" fill="#3cb44b"/>
<circle cx="220.80" cy="344.00" r="2.3" fill="#3cb44b"/>
<circle cx="250.10" cy="322.50" r="2.3" fill="#3cb44b"/>
<circle cx="279.40" cy="317.20" r="2.3" fill="#3cb44b"/>
<circle cx="308.70" cy="334.60" r="2.3" fill="#3cb44b"/>
<circle cx="338.00" cy="301.60" r="2.3" fill="#3cb44b"/>
<circle cx="367.30" cy="321.10" r="2.3" fill="#3cb44b"/>
<line x1="186.6" y1="244.6" x2="202.1" y2="244.6" stroke="#b8123a" stroke-width="1.7" />
<circle cx="195.2" cy="244.6" r="2.3" fill="#b8123a"/>
<text x="205.1" y="247.0" font-size="7.9" text-anchor="start" fill="#231f20" font-weight="normal"  stroke="#231f20" stroke-width="0.18">CD8</text>
<line x1="234" y1="244.6" x2="248.3" y2="244.6" stroke="#1d4f7c" stroke-width="1.7" />
<circle cx="240.9" cy="244.6" r="2.3" fill="#1d4f7c"/>
<text x="251.8" y="247.0" font-size="7.9" text-anchor="start" fill="#231f20" font-weight="normal"  stroke="#231f20" stroke-width="0.18">NK</text>
<line x1="274.7" y1="244.6" x2="290.3" y2="244.6" stroke="#3cb44b" stroke-width="1.7" />
<circle cx="282.5" cy="244.6" r="2.3" fill="#3cb44b"/>
<text x="292.9" y="247.0" font-size="7.9" text-anchor="start" fill="#231f20" font-weight="normal"  stroke="#231f20" stroke-width="0.18">CD4+ Tcon</text>
</svg>
</body></html>
